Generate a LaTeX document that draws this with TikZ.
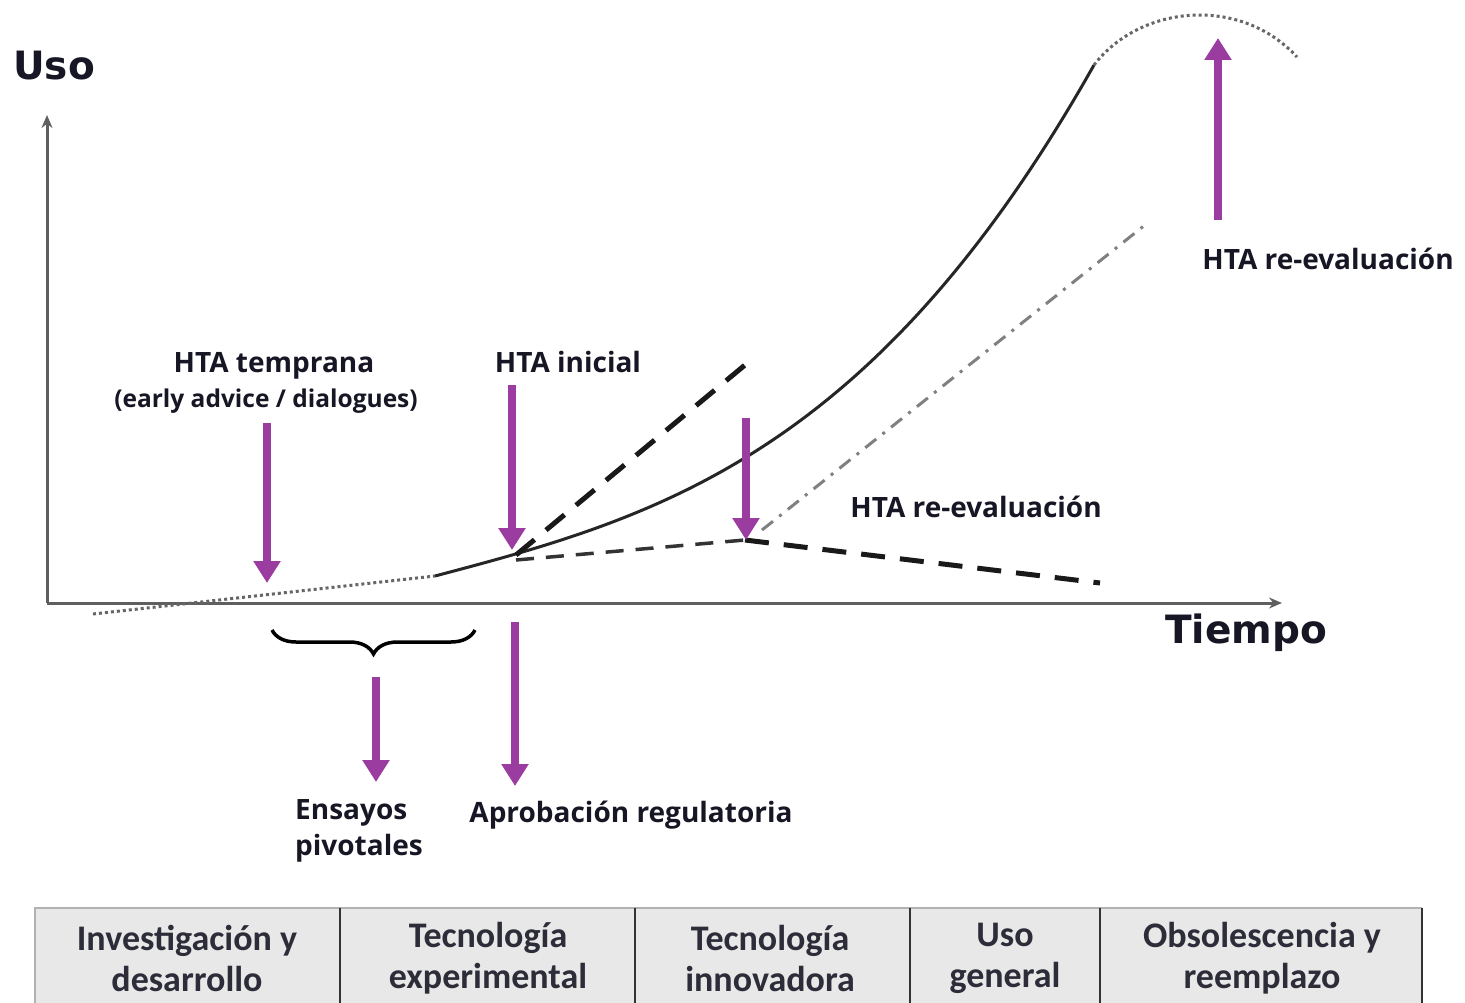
\documentclass[tikz,border=0pt]{standalone}
\usepackage{fontspec}
\setmainfont{Open Sans}
\newfontfamily\axisfont{DejaVu Sans}
\newfontfamily\cellfont{Carlito}
\usetikzlibrary{arrows.meta,decorations.pathreplacing}
\definecolor{htapurple}{RGB}{155,60,160}
\definecolor{axisgray}{RGB}{95,95,95}
\definecolor{cellgray}{RGB}{232,232,232}
\definecolor{textdark}{RGB}{22,22,36}

\begin{document}
\begin{tikzpicture}[x=1pt,y=-1pt,
  axis/.style={draw=axisgray,line width=3pt,-{Stealth[length=13pt,width=11pt]}},
  hta/.style={draw=htapurple,line width=8pt,-{Triangle[length=22pt,width=26pt]}},
  lbl/.style={font=\bfseries\fontsize{28}{33}\selectfont,text=textdark,inner sep=0pt},
  small lbl/.style={font=\bfseries\fontsize{24.5}{28}\selectfont,text=textdark,inner sep=0pt},
  big lbl/.style={font=\axisfont\bfseries\fontsize{39}{44}\selectfont,text=textdark,inner sep=0pt},
  cell/.style={font=\cellfont\bfseries\fontsize{36}{41}\selectfont,text=textdark!90,align=center,inner sep=0pt},
  trend/.style={line width=3pt,black!85},
  dots/.style={line width=3pt,black!60,dash pattern=on 3pt off 3pt},
  heavy dash/.style={line width=5pt,black!90,dash pattern=on 24pt off 15pt},
  light dash/.style={line width=3.5pt,black!80,dash pattern=on 18pt off 12pt},
  dash dot/.style={line width=3pt,gray,dash pattern=on 14pt off 8pt on 3pt off 8pt}]
  \useasboundingbox (0,0) rectangle (1465,1003);

  \coordinate (origin) at (47,603);
  \coordinate (ytop) at (47,115);
  \coordinate (xend) at (1282,603);
  \draw[axis] (origin) -- (ytop);
  \draw[axis] (origin) -- (xend);
  \node[big lbl] (uso) at (54,66) {Uso};
  \node[big lbl] (tiempo) at (1246,633) {Tiempo};

  \coordinate (tail) at (93,614);
  \coordinate (rise) at (435,576);
  \coordinate (fork) at (516,555);
  \coordinate (peak) at (1094,65);
  \coordinate (fall) at (1297,57);
  \coordinate (up end) at (745,365);
  \coordinate (low mid) at (745,540);
  \coordinate (low end) at (1100,583);
  \coordinate (alt start) at (762,530);
  \coordinate (alt end) at (1145,225);

  \draw[dots] (tail) -- (rise);
  \draw[trend] (rise) .. controls (655,518) and (873,457) .. (peak);
  \draw[dots] (peak) .. controls (1140,5) and (1240,-5) .. (fall);
  \draw[heavy dash] (fork) -- (up end);
  \draw[light dash] ([yshift=-5pt]fork) -- (low mid);
  \draw[heavy dash] (low mid) -- (low end);
  \draw[dash dot] (alt start) -- (alt end);

  \node[lbl] (temprana) at (274,366) {HTA temprana};
  \node[small lbl] (early) at (266,401) {(early advice / dialogues)};
  \node[lbl] (inicial) at (568,362) {HTA inicial};
  \node[lbl] (reeval mid) at (976,507) {HTA re-evaluación};
  \node[lbl] (reeval top) at (1328,259) {HTA re-evaluación};
  \node[lbl,align=left,anchor=west,font=\bfseries\fontsize{28}{36}\selectfont] (ensayos) at (295,831) {Ensayos\\pivotales};
  \node[lbl] (aprobacion) at (631,815) {Aprobación regulatoria};

  \coordinate (a1) at (267,423);
  \coordinate (b1) at (267,583);
  \coordinate (a2) at (512,385);
  \coordinate (b2) at (512,550);
  \coordinate (a3) at (746,418);
  \coordinate (b3) at (746,540);
  \coordinate (a4) at (1218,220);
  \coordinate (b4) at (1218,38);
  \coordinate (a5) at (376,677);
  \coordinate (b5) at (376,782);
  \coordinate (a6) at (515,622);
  \coordinate (b6) at (515,786);
  \draw[hta] (a1) -- (b1);
  \draw[hta] (a2) -- (b2);
  \draw[hta] (a3) -- (b3);
  \draw[hta] (a4) -- (b4);
  \draw[hta] (a5) -- (b5);
  \draw[hta] (a6) -- (b6);

  \coordinate (brace left) at (272,630);
  \coordinate (brace right) at (475,630);
  \draw[line width=3.5pt,decorate,decoration={brace,mirror,amplitude=24pt}] (brace left) -- (brace right);

  \fill[cellgray] (35,908) rectangle (1422,1010);
  \draw[gray!60,line width=1.5pt] (35,1010) -- (35,908) -- (1422,908);
  \foreach \x in {340,635,910,1100,1422}
    \draw[black!80,line width=2.5pt] (\x,908) -- (\x,1010);
  \node[cell] (research) at (187,958) {Investigación y\\desarrollo};
  \node[cell] (experimental) at (488,958) {Tecnología\\experimental};
  \node[cell] (innovative) at (770,958) {Tecnología\\innovadora};
  \node[cell] (general) at (1005,958) {Uso\\general};
  \node[cell] (obsolete) at (1262,958) {Obsolescencia y\\reemplazo};
\end{tikzpicture}
\end{document}
